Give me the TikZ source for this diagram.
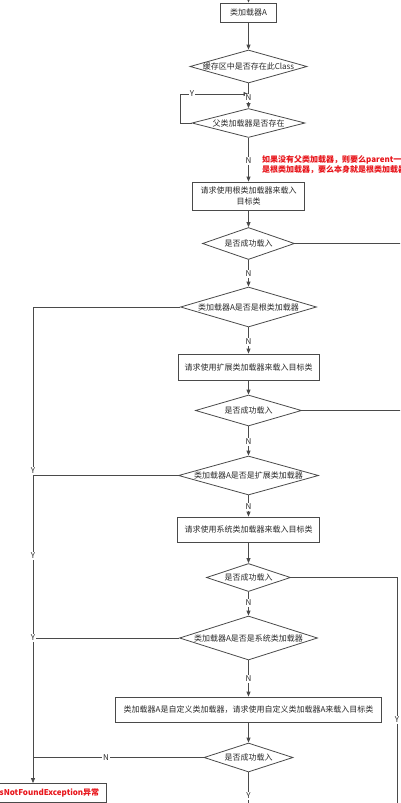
\documentclass[tikz,border=0pt]{standalone}
\usepackage{fontspec}
\setmainfont{Noto Sans CJK SC}
\usetikzlibrary{shapes.geometric,arrows.meta}
\definecolor{ln}{HTML}{4A4A4A}
\definecolor{tx}{HTML}{2A2A2A}
\definecolor{rd}{HTML}{E8151B}
\newcommand\dlab[1]{\makebox[0pt]{#1}}
\begin{document}
\begin{tikzpicture}[x=1pt,y=-1pt,
  every node/.style={font=\fontsize{8}{11}\selectfont, text=tx},
  flow/.style={draw=ln, line width=0.8pt},
  arr/.style={flow, -{Triangle[length=5pt,width=4pt]}},
  procbox/.style={draw=ln, line width=0.8pt, rectangle, inner sep=0pt, fill=white, align=center},
  dia/.style={draw=ln, line width=0.8pt, diamond, inner sep=0pt, fill=white},
  yn/.style={fill=white, inner sep=0.8pt, font=\fontsize{8}{8}\selectfont},
  note/.style={text=rd, font=\bfseries\fontsize{8}{9.5}\selectfont, align=left, anchor=north west, inner sep=0pt},
]
\clip (0,0) rectangle (400,803);
\fill[white] (0,0) rectangle (400,803);

% nodes
\coordinate (top) at (248.5,-10);
\node[procbox, minimum width=56, minimum height=19] (b1) at (248.5,12.5) {类加载器A};
\node[dia, minimum width=117, minimum height=33] (d1) at (248.5,66.5) {\dlab{缓存区中是否存在此Class}};
\coordinate (j1) at (248.5,94);
\coordinate (lp) at (180,94);
\node[dia, minimum width=113, minimum height=29] (d2) at (248.5,123) {\dlab{父类加载器是否存在}};
\node[procbox, minimum width=112, minimum height=28] (b3) at (248.5,196) {请求使用根类加载器来载入\\目标类};
\node[dia, minimum width=92, minimum height=32] (d3) at (248.5,243.5) {\dlab{是否成功载入}};
\coordinate (r3) at (410,243.5);
\node[dia, minimum width=136, minimum height=40] (d4) at (248.5,307) {\dlab{类加载器A是否是根类加载器}};
\node[procbox, minimum width=141, minimum height=26] (b5) at (248.5,367) {请求使用扩展类加载器来载入目标类};
\node[dia, minimum width=106, minimum height=31] (d6) at (248.5,410.5) {\dlab{是否成功载入}};
\coordinate (r6) at (410,410.5);
\node[dia, minimum width=140, minimum height=39] (d7) at (248.5,475.5) {\dlab{类加载器A是否是扩展类加载器}};
\node[procbox, minimum width=142, minimum height=25] (b8) at (248.5,529.5) {请求使用系统类加载器来载入目标类};
\node[dia, minimum width=84, minimum height=28] (d9) at (248.5,577.5) {\dlab{是否成功载入}};
\coordinate (r9) at (397,577.5);
\coordinate (r9b) at (397,815);
\node[dia, minimum width=138, minimum height=44] (d10) at (248.5,638) {\dlab{类加载器A是否是系统类加载器}};
\node[procbox, minimum width=266, minimum height=25] (b11) at (248.5,709.5) {类加载器A是自定义类加载器，请求使用自定义类加载器A来载入目标类};
\node[dia, minimum width=89, minimum height=29] (d12) at (248.5,757.5) {\dlab{是否成功载入}};
\coordinate (bot) at (248.5,815);
\node[procbox, minimum width=146, minimum height=19, text=rd, font=\bfseries\fontsize{8}{8}\selectfont] (ex) at (33,793) {抛出ClassNotFoundException异常};

% connectors
\draw[arr] (top) -- (b1);
\draw[arr] (b1) -- (d1);
\draw[arr] (d1) -- (d2);
\draw[arr] (d2.west) -- (d2.west -| lp) -- (lp) -- (j1);
\draw[arr] (d2) -- (b3);
\draw[arr] (b3) -- (d3);
\draw[flow] (d3.east) -- (r3);
\draw[arr] (d3) -- (d4);
\draw[arr] (d4.west) -| (ex.north);
\draw[arr] (d4) -- (b5);
\draw[arr] (b5) -- (d6);
\draw[flow] (d6.east) -- (r6);
\draw[arr] (d6) -- (d7);
\draw[flow] (d7.west) -- (d7.west -| ex.north);
\draw[arr] (d7) -- (b8);
\draw[arr] (b8) -- (d9);
\draw[flow] (d9.east) -- (r9) -- (r9b);
\draw[arr] (d9) -- (d10);
\draw[flow] (d10.west) -- (d10.west -| ex.north);
\draw[arr] (d10) -- (b11);
\draw[arr] (b11) -- (d12);
\draw[flow] (d12.west) -- (d12.west -| ex.north);
\draw[flow] (d12) -- (bot);

% labels
\node[yn] (y0) at (192,94) {Y};
\node[yn] (n1) at (248.5,98) {N};
\node[yn] (n2) at (248.5,161) {N};
\node[yn] (n3) at (248.5,274) {N};
\node[yn] (n4) at (248.5,342) {N};
\node[yn] (n6) at (248.5,442) {N};
\node[yn] (y7) at (33,471) {Y};
\node[yn] (n7) at (248.5,507) {N};
\node[yn] (y4) at (33,556) {Y};
\node[yn] (n9) at (248.5,603) {N};
\node[yn] (y10) at (33,638) {Y};
\node[yn] (n10) at (248.5,679) {N};
\node[yn] (y9) at (397,720) {Y};
\node[yn] (n12) at (106,758) {N};
\node[yn] (y12) at (248.5,796) {Y};
\node[note] (note) at (262,155.5) {如果没有父类加载器，则要么parent一定\\是根类加载器，要么本身就是根类加载器};
\end{tikzpicture}
\end{document}
